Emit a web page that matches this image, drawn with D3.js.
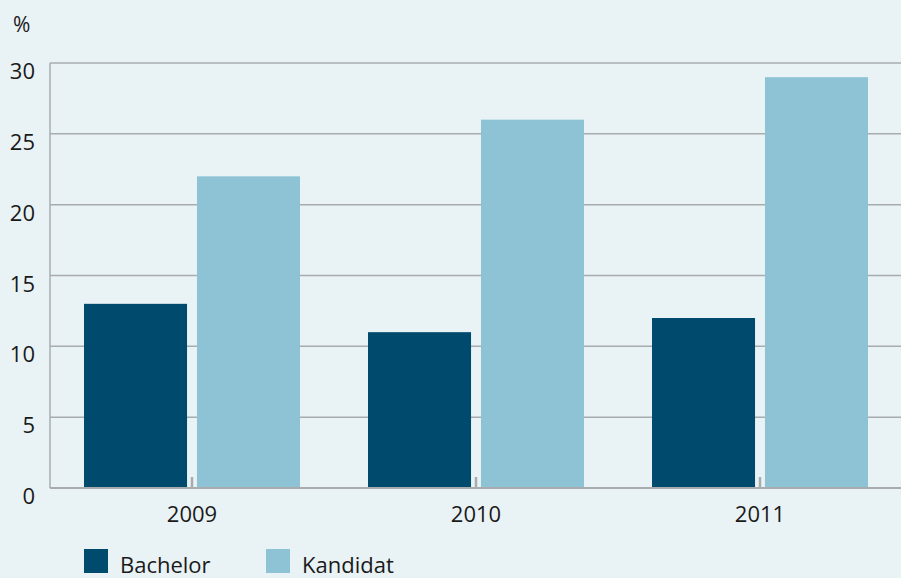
<!DOCTYPE html>
<html>
<head>
<meta charset="utf-8">
<script src="https://cdn.jsdelivr.net/npm/d3@7"></script>
<style>
  body { margin: 0; background: #e9f2f5; }
  text { font-family: "Open Sans", "Noto Sans", sans-serif; fill: #1a1a1a; }
</style>
</head>
<body>
<div id="chart"></div>
<script>
// data
var years = ["2009", "2010", "2011"];
var seriesNames = ["Bachelor", "Kandidat"];
var bachelor = [13, 11, 12];
var kandidat = [22, 26, 29];
var yTicks = [0, 5, 10, 15, 20, 25, 30];
var colors = ["#004a6e", "#8dc3d5"];

var svgWidth = 901;
var svgHeight = 578;
var margin = { top: 63, right: -1, bottom: 90, left: 50 };
var width = svgWidth - margin.left - margin.right;
var height = svgHeight - margin.top - margin.bottom;

var svg = d3.select("#chart")
    .append("svg")
    .attr("width", svgWidth)
    .attr("height", svgHeight);

svg.append("rect")
    .attr("width", svgWidth)
    .attr("height", svgHeight)
    .attr("fill", "#e9f2f5");

var chartGroup = svg.append("g")
    .attr("transform", `translate(${margin.left}, ${margin.top})`);

var table = years.map(function(y, i) {
    return { year: y, values: [bachelor[i], kandidat[i]] };
});

var x0 = d3.scaleBand()
    .domain(years)
    .range([0, width])
    .paddingInner(0)
    .paddingOuter(0);

var x1 = d3.scaleBand()
    .domain(seriesNames)
    .range([34, x0.bandwidth() - 34])
    .paddingInner(0.088);

var y = d3.scaleLinear()
    .domain([0, 30])
    .range([height, 0]);

// gridlines
chartGroup.selectAll(".grid")
    .data(yTicks.filter(d => d > 0))
    .enter()
    .append("line")
    .attr("x1", 0)
    .attr("x2", width)
    .attr("y1", d => y(d))
    .attr("y2", d => y(d))
    .attr("stroke", "#a9acae")
    .attr("stroke-width", 1.5);

// y labels (sit just under their gridline)
chartGroup.selectAll(".ylab")
    .data(yTicks)
    .enter()
    .append("text")
    .attr("x", -15)
    .attr("y", d => y(d) + 16)
    .attr("text-anchor", "end")
    .style("font-size", "22px")
    .text(d => d);

svg.append("text")
    .attr("x", 13)
    .attr("y", 32)
    .style("font-size", "21px")
    .text("%");

// x ticks (drawn before bars)
chartGroup.selectAll(".xtick")
    .data(years)
    .enter()
    .append("line")
    .attr("x1", d => x0(d) + x0.bandwidth() / 2)
    .attr("x2", d => x0(d) + x0.bandwidth() / 2)
    .attr("y1", height - 11)
    .attr("y2", height)
    .attr("stroke", "#a9acae")
    .attr("stroke-width", 2.5);

// bars
var groups = chartGroup.selectAll(".group")
    .data(table)
    .enter()
    .append("g")
    .attr("transform", d => `translate(${x0(d.year)}, 0)`);

groups.selectAll("rect")
    .data(d => d.values.map((v, i) => ({ key: seriesNames[i], value: v, i: i })))
    .enter()
    .append("rect")
    .attr("x", d => x1(d.key))
    .attr("y", d => y(d.value))
    .attr("width", x1.bandwidth())
    .attr("height", d => height - y(d.value))
    .attr("fill", d => colors[d.i]);

// axes lines
chartGroup.append("line")
    .attr("x1", 0).attr("x2", 0)
    .attr("y1", 0).attr("y2", height)
    .attr("stroke", "#a9acae")
    .attr("stroke-width", 1.5);

chartGroup.append("line")
    .attr("x1", 0).attr("x2", width)
    .attr("y1", height).attr("y2", height)
    .attr("stroke", "#a9acae")
    .attr("stroke-width", 2);

// x labels
chartGroup.selectAll(".xlab")
    .data(years)
    .enter()
    .append("text")
    .attr("x", d => x0(d) + x0.bandwidth() / 2)
    .attr("y", height + 34)
    .attr("text-anchor", "middle")
    .style("font-size", "22px")
    .text(d => d);

// legend
var legendX = [84, 266];
var legend = svg.selectAll(".legend")
    .data(seriesNames)
    .enter()
    .append("g")
    .attr("transform", (d, i) => `translate(${legendX[i]}, 549)`);

legend.append("rect")
    .attr("width", 24)
    .attr("height", 24)
    .attr("fill", (d, i) => colors[i]);

legend.append("text")
    .attr("x", 36)
    .attr("y", 24)
    .style("font-size", "22px")
    .text(d => d);
</script>
</body>
</html>
